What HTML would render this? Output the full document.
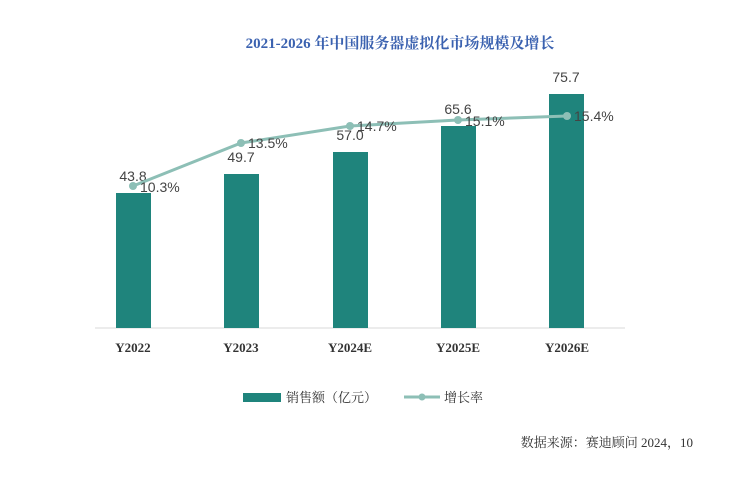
<!DOCTYPE html>
<html><head><meta charset="utf-8"><style>
body{margin:0;background:#fff;width:750px;height:480px;overflow:hidden}
svg text{font-family:"Liberation Sans","Noto Sans CJK SC",sans-serif}
svg text.serif{font-family:"Liberation Serif","Noto Serif CJK SC",serif}
</style></head><body>
<svg width="750" height="480" viewBox="0 0 750 480">
<text class="serif" x="400" y="48" text-anchor="middle" font-size="15" font-weight="bold" fill="#3b62b0">2021-2026 年中国服务器虚拟化市场规模及增长</text>
<line x1="95" y1="328" x2="625" y2="328" stroke="#d9d9d9" stroke-width="1"/>
<g fill="#1f847c">
<rect x="116" y="193" width="35" height="135"/>
<rect x="224" y="174" width="35" height="154"/>
<rect x="333" y="152" width="35" height="176"/>
<rect x="441" y="126" width="35" height="202"/>
<rect x="549" y="94" width="35" height="234"/>
</g>
<g font-size="14" fill="#444" text-anchor="middle">
<text x="133" y="181">43.8</text>
<text x="241" y="162">49.7</text>
<text x="350" y="140">57.0</text>
<text x="458" y="114">65.6</text>
<text x="566" y="82">75.7</text>
</g>
<polyline points="133,186 241,143 350,126 458,120 567,116" fill="none" stroke="#8dbfb6" stroke-width="3"/>
<g fill="#8dbfb6">
<circle cx="133" cy="186" r="4"/><circle cx="241" cy="143" r="4"/><circle cx="350" cy="126" r="4"/><circle cx="458" cy="120" r="4"/><circle cx="567" cy="116" r="4"/>
</g>
<g font-size="14" fill="#444">
<text x="140" y="192">10.3%</text>
<text x="248" y="148">13.5%</text>
<text x="357" y="131">14.7%</text>
<text x="465" y="126">15.1%</text>
<text x="574" y="121">15.4%</text>
</g>
<g font-size="13" fill="#333" text-anchor="middle" font-weight="bold">
<text class="serif" x="133" y="352">Y2022</text>
<text class="serif" x="241" y="352">Y2023</text>
<text class="serif" x="350" y="352">Y2024E</text>
<text class="serif" x="458" y="352">Y2025E</text>
<text class="serif" x="567" y="352">Y2026E</text>
</g>
<rect x="243" y="393" width="38" height="9" fill="#1f847c"/>
<text class="serif" x="286" y="402" font-size="13" fill="#333">销售额（亿元）</text>
<line x1="404" y1="397" x2="440" y2="397" stroke="#8dbfb6" stroke-width="3"/>
<circle cx="422" cy="397" r="3.5" fill="#8dbfb6"/>
<text class="serif" x="444" y="402" font-size="13" fill="#333">增长率</text>
<text class="serif" x="693" y="447" text-anchor="end" font-size="13" fill="#333">数据来源：赛迪顾问  2024，10</text>
</svg>
</body></html>
